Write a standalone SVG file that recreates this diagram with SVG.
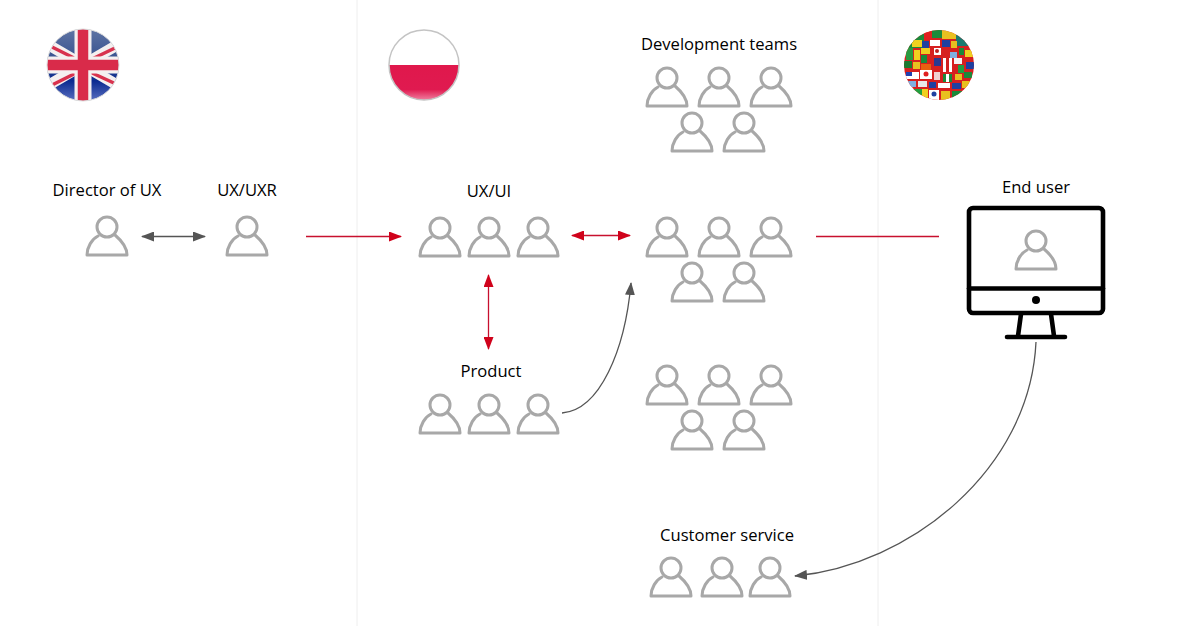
<svg xmlns="http://www.w3.org/2000/svg" xmlns:xlink="http://www.w3.org/1999/xlink" width="1200" height="626" viewBox="0 0 1200 626">
<style>
text{font-family:"Open Sans","Noto Sans","Liberation Sans",sans-serif;font-size:16.600px;fill:#000;text-anchor:middle}
.p{fill:none;stroke:#a8a8a8;stroke-width:3;stroke-linecap:round;stroke-linejoin:round}
.m{fill:none;stroke:#000;stroke-width:4.600;stroke-linecap:round;stroke-linejoin:round}
.r{fill:none;stroke:#c8102e;stroke-width:1.300}
.g{fill:none;stroke:#555;stroke-width:1.300}
.div{stroke:#eeeeee;stroke-width:1}
</style>
<defs>
<symbol id="person" overflow="visible"><g class="p"><circle cx="0" cy="-29" r="10"/><path d="M-9-20C-15-17-20-9-20-1H20C20-9 15-15 8-21"/></g></symbol>
<marker id="ar" viewBox="0 0 13 10" refX="12" refY="5" markerWidth="13" markerHeight="10" markerUnits="userSpaceOnUse" orient="auto-start-reverse"><path d="M0 0L13 5L0 10Z" fill="#d0021b"/></marker>
<marker id="ag" viewBox="0 0 13 10" refX="12" refY="5" markerWidth="13" markerHeight="10" markerUnits="userSpaceOnUse" orient="auto-start-reverse"><path d="M0 0L13 5L0 10Z" fill="#555"/></marker>
<clipPath id="cu"><circle cx="83" cy="65" r="36"/></clipPath>
<clipPath id="cp"><circle cx="424" cy="65" r="35"/></clipPath>
<clipPath id="cg"><circle cx="939" cy="65" r="35"/></clipPath>
<linearGradient id="blue" x1="0" y1="0" x2="0" y2="1"><stop offset="0" stop-color="#5f74a4"/><stop offset=".45" stop-color="#34508e"/><stop offset=".72" stop-color="#0a2a90"/><stop offset="1" stop-color="#5a6fc0"/></linearGradient>
<linearGradient id="red" x1="0" y1="0" x2="0" y2="1"><stop offset="0" stop-color="#e0184c"/><stop offset=".7" stop-color="#e01a50"/><stop offset="1" stop-color="#f080a0"/></linearGradient>
</defs>
<g id="dividers"><line class="div" x1="357" y1="0" x2="357" y2="626"/><line class="div" x1="878" y1="0" x2="878" y2="626"/></g>
<g id="flag-uk" clip-path="url(#cu)"><rect x="47" y="29" width="73" height="72" fill="url(#blue)"/>
<path d="M47 44L119 86M119 44L47 86" stroke="#f4f0f0" stroke-width="11"/><path d="M50 46L78 60M117 47L90 60M52 85L78 72M116 84L90 72" stroke="#d8324e" stroke-width="3.500"/>
<path d="M83 29V101M47 65H120" stroke="#f4f0f0" stroke-width="17"/><path d="M83 29V101M47 65H120" stroke="#d92b4a" stroke-width="10.500"/></g>
<circle cx="83" cy="65" r="36" fill="none" stroke="#ddd" stroke-width="1"/>
<g id="flag-pl" clip-path="url(#cp)"><rect x="389" y="30" width="70" height="35" fill="#fff"/><rect x="389" y="65" width="70" height="35" fill="url(#red)"/></g>
<circle cx="424" cy="65" r="35" fill="none" stroke="#c4c4c4" stroke-width="1.500"/>
<g id="flag-globe" clip-path="url(#cg)"><rect x="904" y="30" width="70" height="70" fill="#d62020"/>
<rect x="904" y="30" width="20" height="18" fill="#1a8a3a"/><rect x="924" y="30" width="8" height="10" fill="#e02020"/><rect x="932" y="30" width="10" height="8" fill="#1a8a3a"/><rect x="942" y="30" width="14" height="9" fill="#e8c020"/><rect x="956" y="30" width="18" height="16" fill="#1a7a70"/>
<rect x="912" y="40" width="10" height="7" fill="#f0d020"/><rect x="922" y="41" width="7" height="8" fill="#2040a0"/><rect x="930" y="40" width="10" height="6" fill="#fff"/><rect x="942" y="40" width="8" height="7" fill="#2040a0"/><rect x="951" y="41" width="6" height="7" fill="#e8c020"/>
<rect x="906" y="48" width="7" height="12" fill="#2a9a40"/><rect x="914" y="50" width="6" height="10" fill="#f0d020"/><rect x="921" y="48" width="9" height="6" fill="#f0d020"/><rect x="921" y="55" width="6" height="8" fill="#1a8a3a"/><rect x="934" y="48" width="7" height="7" fill="#fff"/><circle cx="937" cy="51" r="2" fill="#c02020"/><rect x="950" y="52" width="7" height="6" fill="#80b0e0"/><rect x="959" y="48" width="5" height="7" fill="#1a8a3a"/><rect x="965" y="50" width="9" height="7" fill="#f0d020"/>
<rect x="904" y="61" width="8" height="7" fill="#1a7a30"/><rect x="913" y="62" width="7" height="7" fill="#e8c020"/><rect x="921" y="64" width="10" height="7" fill="#e86010"/><rect x="934" y="58" width="7" height="8" fill="#2a3a90"/><rect x="943" y="58" width="9" height="14" fill="#fff"/><rect x="946" y="58" width="3" height="14" fill="#d02020"/><rect x="954" y="58" width="8" height="6" fill="#f4f4f4"/><rect x="958" y="65" width="6" height="8" fill="#20a040"/><rect x="966" y="62" width="8" height="7" fill="#2040a0"/>
<rect x="906" y="72" width="13" height="7" fill="#fff"/><rect x="906" y="72" width="6" height="4" fill="#2040b0"/><rect x="920" y="70" width="12" height="9" fill="#fff"/><circle cx="926" cy="74" r="2.500" fill="#e02020"/><rect x="934" y="72" width="6" height="8" fill="#f0d0d0"/><rect x="943" y="74" width="9" height="8" fill="#1a8a3a"/><rect x="946" y="74" width="3" height="8" fill="#fff"/><rect x="955" y="74" width="7" height="6" fill="#e8c020"/><rect x="964" y="72" width="8" height="6" fill="#1a8a3a"/>
<rect x="908" y="81" width="8" height="6" fill="#80b0e0"/><rect x="918" y="81" width="9" height="6" fill="#e8e8e8"/><rect x="929" y="82" width="7" height="6" fill="#2040a0"/><rect x="938" y="83" width="12" height="5" fill="#fff"/><rect x="952" y="83" width="9" height="6" fill="#2040a0"/><rect x="962" y="81" width="8" height="7" fill="#e8c020"/>
<rect x="912" y="89" width="10" height="11" fill="#20a040"/><rect x="922" y="89" width="6" height="11" fill="#f0d020"/><rect x="929" y="90" width="10" height="10" fill="#fff"/><circle cx="934" cy="94" r="2.500" fill="#2040a0"/><rect x="941" y="91" width="9" height="9" fill="#e8c020"/><rect x="952" y="91" width="12" height="9" fill="#1a8a3a"/></g>
<g id="connectors">
<line class="g" x1="142" y1="236.500" x2="205" y2="236.500" marker-start="url(#ag)" marker-end="url(#ag)"/>
<line class="r" x1="306" y1="236.500" x2="401" y2="236.500" marker-end="url(#ar)"/>
<line class="r" x1="572" y1="235.500" x2="630" y2="235.500" marker-start="url(#ar)" marker-end="url(#ar)"/>
<line class="r" x1="488.500" y1="275" x2="488.500" y2="349" marker-start="url(#ar)" marker-end="url(#ar)"/>
<line class="r" x1="816" y1="236.500" x2="939" y2="236.500"/>
<path class="g" d="M562 413C600 410 625 350 631 283" marker-end="url(#ag)"/>
<path class="g" d="M1036 342C1030 470 910 565 795 576" marker-end="url(#ag)"/>
</g>
<g id="director"><text x="107" y="196">Director of UX</text><use xlink:href="#person" href="#person" x="107" y="256"/></g>
<g id="uxr"><text x="247" y="196">UX/UXR</text><use href="#person" x="247" y="256"/></g>
<g id="uxui"><text x="489" y="197">UX/UI</text><use href="#person" x="440" y="257"/><use href="#person" x="489" y="257"/><use href="#person" x="538" y="257"/></g>
<g id="product"><text x="491" y="377">Product</text><use href="#person" x="440" y="434"/><use href="#person" x="489" y="434"/><use href="#person" x="538" y="434"/></g>
<g id="dev-top"><text x="719" y="50">Development teams</text><use href="#person" x="667" y="107"/><use href="#person" x="719" y="107"/><use href="#person" x="771" y="107"/><use href="#person" x="692" y="152"/><use href="#person" x="744" y="152"/></g>
<g id="dev-mid"><use href="#person" x="667" y="257"/><use href="#person" x="719" y="257"/><use href="#person" x="771" y="257"/><use href="#person" x="692" y="302"/><use href="#person" x="744" y="302"/></g>
<g id="dev-low"><use href="#person" x="667" y="405"/><use href="#person" x="719" y="405"/><use href="#person" x="771" y="405"/><use href="#person" x="692" y="450"/><use href="#person" x="744" y="450"/></g>
<g id="customer-service"><text x="727" y="541">Customer service</text><use href="#person" x="671" y="597"/><use href="#person" x="722" y="597"/><use href="#person" x="770" y="597"/></g>
<g id="end-user"><text x="1036" y="193">End user</text>
<rect class="m" x="969" y="208" width="134" height="105" rx="4"/><line class="m" x1="969" y1="288.500" x2="1103" y2="288.500"/><circle cx="1036" cy="300" r="4" fill="#000"/>
<path class="m" d="M1021 314L1018 336M1051 314L1054 336M1007 337H1065"/>
<use href="#person" x="1036" y="270"/></g>
</svg>
